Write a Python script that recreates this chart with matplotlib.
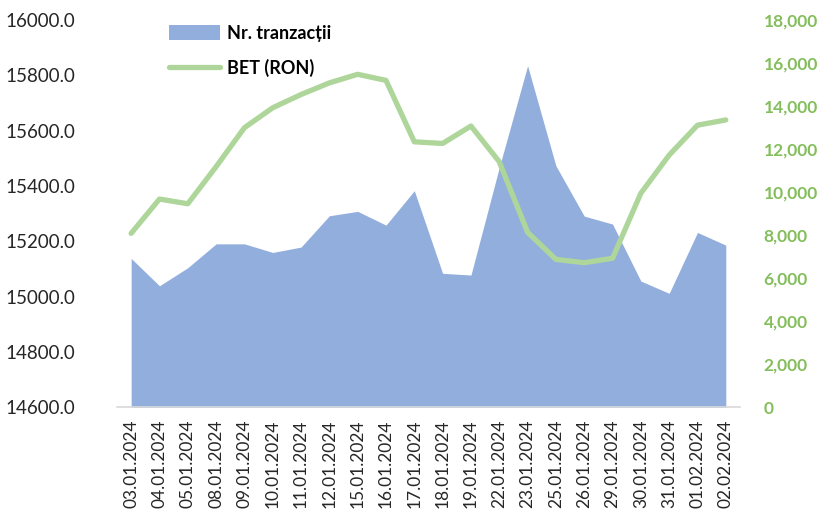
import numpy as np
import matplotlib.pyplot as plt
from matplotlib.ticker import FuncFormatter, FixedLocator

# Data
dates = ['03.01.2024', '04.01.2024', '05.01.2024', '08.01.2024', '09.01.2024',
         '10.01.2024', '11.01.2024', '12.01.2024', '15.01.2024', '16.01.2024',
         '17.01.2024', '18.01.2024', '19.01.2024', '22.01.2024', '23.01.2024',
         '25.01.2024', '26.01.2024', '29.01.2024', '30.01.2024', '31.01.2024',
         '01.02.2024', '02.02.2024']
nr_tranzactii = [6925, 5650, 6490, 7600, 7600, 7200, 7450, 8905, 9110, 8470,
                 10070, 6230, 6150, 11150, 15880, 11230, 8890, 8520, 5870, 5300,
                 8130, 7540]
bet_ron = [15229, 15353, 15336, 15470, 15611, 15683, 15731, 15773, 15804, 15782,
           15560, 15554, 15617, 15488, 15233, 15135, 15123, 15139, 15374, 15512,
           15620, 15639]

left_ticks = [14600, 14800, 15000, 15200, 15400, 15600, 15800, 16000]
right_ticks = [0, 2000, 4000, 6000, 8000, 10000, 12000, 14000, 16000, 18000]

blue = '#92AEDC'
green_line = '#AED69A'
green_text = '#84BE5C'

plt.rcParams['font.family'] = ['Lato', 'DejaVu Sans']

fig = plt.figure(figsize=(8.17, 5.15), dpi=100)
ax = fig.add_axes([0.1432, 0.209, 0.7625, 0.752])
ax2 = ax.twinx()

x = np.arange(len(dates))

# area (right axis) below, line (left axis) on top
ax2.fill_between(x, 0, nr_tranzactii, color=blue, linewidth=0, label='Nr. tranzacții')
ax.plot(x, bet_ron, color=green_line, linewidth=3.8, solid_capstyle='round',
        solid_joinstyle='round', label='BET (RON)')
ax.set_zorder(ax2.get_zorder() + 1)
ax.patch.set_visible(False)

ax.set_xlim(-0.5, len(dates) - 0.5)
ax.set_ylim(14600, 16000)
ax2.set_ylim(0, 18000)

ax.yaxis.set_major_locator(FixedLocator(left_ticks))
ax.yaxis.set_major_formatter(FuncFormatter(lambda v, p: f'{v:.1f}'))
ax2.yaxis.set_major_locator(FixedLocator(right_ticks))
ax2.yaxis.set_major_formatter(FuncFormatter(lambda v, p: f'{v:,.0f}'))

ax.set_xticks(x)
ax.set_xticklabels(dates, rotation=90, fontsize=12.5, color='#262626')

for a in (ax, ax2):
    for s in a.spines.values():
        s.set_visible(False)
    a.tick_params(length=0)
ax.spines['bottom'].set_visible(True)
ax.spines['bottom'].set_color('#D9D9D9')
ax.spines['bottom'].set_linewidth(1.2)

# pads are in points (1 pt = 1.39 px at 100 dpi)
ax.tick_params(axis='y', labelsize=13.5, pad=30, labelcolor='#262626')
ax.tick_params(axis='x', pad=9)
ax2.tick_params(axis='y', labelsize=12.5, pad=17, labelcolor=green_text)
for lbl in ax2.get_yticklabels():
    lbl.set_fontweight('bold')

h1, l1 = ax2.get_legend_handles_labels()
h2, l2 = ax.get_legend_handles_labels()
leg = ax.legend(h1 + h2, l1 + l2, loc='upper left', bbox_to_anchor=(0.058, 1.03),
                frameon=False, prop={'weight': 'bold', 'size': 13},
                handlelength=2.8, handleheight=0.9, labelspacing=0.95, handletextpad=0.4)

fig.savefig('out.png', dpi=100)
